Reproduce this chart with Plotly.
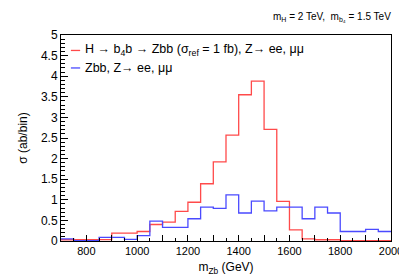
import plotly.graph_objects as go

# bin edges (GeV) and contents (ab/bin)
bin_edges = list(range(700, 2001, 50))
signal = [0.03, 0.035, 0.035, 0.035, 0.19, 0.19, 0.23, 0.40, 0.46, 0.72, 0.94, 1.39, 1.92,
          2.57, 3.55, 3.88, 2.71, 0.96, 0.27, 0.05, 0.03, 0.03, 0.01, 0.01, 0.01, 0.01]
background = [0.05, 0.01, 0.01, 0.09, 0.09, 0.04, 0.13, 0.48, 0.33, 0.33, 0.54, 0.82, 0.79,
              1.12, 0.68, 0.97, 0.73, 0.82, 0.82, 0.54, 0.82, 0.68, 0.23, 0.23, 0.28, 0.23]
signal_name = "H → b<sub>4</sub>b → Zbb (σ<sub>ref</sub> = 1 fb), Z→ ee, μμ"
background_name = "Zbb, Z→ ee, μμ"
x_label_ticks = list(range(800, 2001, 200))
x_mid_ticks = list(range(700, 2001, 100))

RED = "#ff4a4a"
BLUE = "#4a4aff"
FONT = "Liberation Sans, Arial, Helvetica, sans-serif"

fig = go.Figure()
fig.add_trace(go.Scatter(x=bin_edges, y=signal + [signal[-1]], mode="lines",
                         line=dict(color=RED, width=1.3, shape="hv"),
                         name=signal_name, showlegend=False))
fig.add_trace(go.Scatter(x=bin_edges, y=background + [background[-1]], mode="lines",
                         line=dict(color=BLUE, width=1.3, shape="hv"),
                         name=background_name, showlegend=False))
# invisible helper trace on the secondary x axis (for the 100 GeV ticks)
fig.add_trace(go.Scatter(x=[bin_edges[0], bin_edges[-1]], y=[0, 0], mode="lines",
                         line=dict(width=0), xaxis="x2", hoverinfo="skip",
                         showlegend=False))

# manual ROOT-style legend (no box)
legend_items = [(signal_name, RED, 0.925), (background_name, BLUE, 0.84)]
for name, color, yp in legend_items:
    fig.add_shape(type="line", xref="paper", yref="paper", x0=0.03, x1=0.058, y0=yp, y1=yp,
                  line=dict(color=color, width=1.3))
    fig.add_annotation(text=name, xref="paper", yref="paper", x=0.068, y=yp,
                       xanchor="left", yanchor="middle", showarrow=False,
                       font=dict(size=12.5, color="black", family=FONT))

fig.add_annotation(text="m<sub>H</sub> = 2 TeV,  m<sub>b₄</sub> = 1.5 TeV",
                   xref="paper", yref="paper", x=1.005, y=1.05, xanchor="right",
                   yanchor="bottom", showarrow=False,
                   font=dict(size=10, color="black", family=FONT))

fig.update_layout(
    width=407, height=276,
    margin=dict(l=53, r=21, t=27, b=37),
    paper_bgcolor="white", plot_bgcolor="white",
    font=dict(family=FONT, color="black"),
    showlegend=False,
    xaxis=dict(range=[700, 2000], showgrid=False, zeroline=False,
               showline=True, linecolor="black", linewidth=1, mirror=True,
               tickmode="array", tickvals=x_label_ticks,
               ticks="inside", ticklen=6, tickcolor="black",
               minor=dict(tickmode="linear", tick0=700, dtick=50, ticks="inside",
                          ticklen=3, tickcolor="black"),
               tickfont=dict(size=11, family=FONT),
               title=dict(text="m<sub>Zb</sub> (GeV)", font=dict(size=12, family=FONT),
                          standoff=6)),
    xaxis2=dict(range=[700, 2000], overlaying="x", side="bottom", anchor="y",
                showgrid=False, zeroline=False, showline=False,
                tickmode="array", tickvals=x_mid_ticks, showticklabels=False,
                ticks="inside", ticklen=6, tickcolor="black"),
    yaxis=dict(range=[0, 5.0], showgrid=False, zeroline=False,
               showline=True, linecolor="black", linewidth=1, mirror=True,
               dtick=0.5, tick0=0, ticks="inside", ticklen=7, tickcolor="black",
               minor=dict(dtick=0.1, ticks="inside", ticklen=3.5, tickcolor="black"),
               tickfont=dict(size=12, family=FONT),
               title=dict(text="σ (ab/bin)", font=dict(size=12, family=FONT),
                          standoff=10)),
)

fig.write_html("out.html")
